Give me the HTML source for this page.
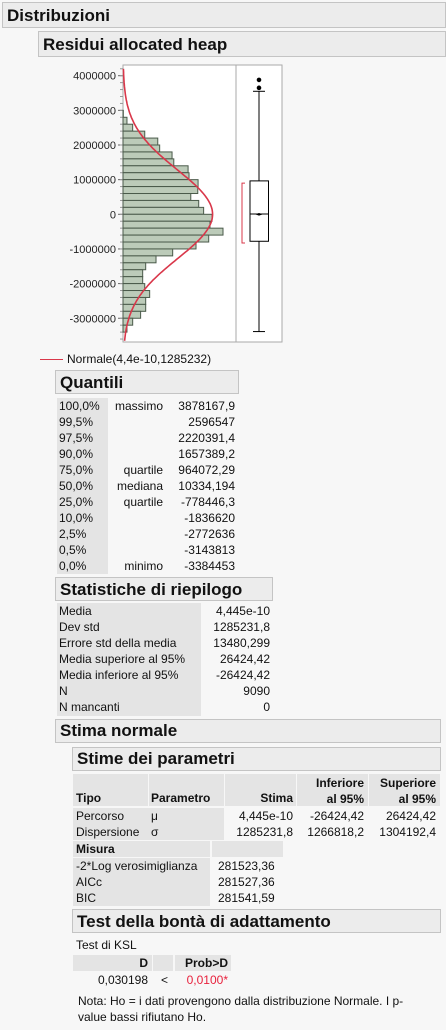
<!DOCTYPE html>
<html><head><meta charset="utf-8">
<style>
body{margin:0;width:446px;height:1030px;background:#f7f7f7;font-family:"Liberation Sans",Arial,sans-serif;font-size:12px;color:#111;position:relative;overflow:hidden}
.hdr{position:absolute;background:#ececec;border:1px solid #c4c4c4;font-weight:bold;box-sizing:border-box;padding-left:4px}
.a{position:absolute;white-space:nowrap}
.g{position:absolute;background:#e4e4e4}
.r{text-align:right}
</style></head><body>
<div class="hdr" style="left:2px;top:2px;width:444px;height:26px;font-size:17px;line-height:25px">Distribuzioni</div>
<div class="hdr" style="left:38px;top:31px;width:408px;height:26px;font-size:17px;line-height:25px">Residui allocated heap</div>

<svg id="chart" style="position:absolute;left:0;top:60px" width="300" height="290"></svg>

<div class="a" style="left:40px;top:352px;font-size:12px"><span style="display:inline-block;width:23px;border-top:1px solid #d9374a;vertical-align:middle;margin-right:4px"></span>Normale(4,4e-10,1285232)</div>

<div class="hdr" style="left:55px;top:370px;width:184px;height:24px;font-size:17px;line-height:23px">Quantili</div>
<div class="g" style="left:57px;top:398px;width:51px;height:176px"></div>
<div id="qt"></div>

<div class="hdr" style="left:55px;top:577px;width:218px;height:24px;font-size:17px;line-height:23px">Statistiche di riepilogo</div>
<div class="g" style="left:57px;top:603px;width:144px;height:113px"></div>
<div id="st"></div>

<div class="hdr" style="left:55px;top:719px;width:386px;height:24px;font-size:17px;line-height:22px">Stima normale</div>
<div class="hdr" style="left:72px;top:747px;width:369px;height:24px;font-size:17px;line-height:22px">Stime dei parametri</div>
<div>
<div class="g" style="left:73px;top:774px;width:75px;height:32px"></div>
<div class="g" style="left:149px;top:774px;width:75px;height:32px"></div>
<div class="g" style="left:225px;top:774px;width:71px;height:32px"></div>
<div class="g" style="left:297px;top:774px;width:71px;height:32px"></div>
<div class="g" style="left:369px;top:774px;width:71px;height:32px"></div>
<div class="a" style="left:76px;top:791px;font-weight:bold">Tipo</div>
<div class="a" style="left:151px;top:791px;font-weight:bold">Parametro</div>
<div class="a r" style="left:225px;width:68px;top:791px;font-weight:bold">Stima</div>
<div class="a r" style="left:297px;width:67px;top:775px;font-weight:bold;line-height:16px">Inferiore<br>al 95%</div>
<div class="a r" style="left:369px;width:67px;top:775px;font-weight:bold;line-height:16px">Superiore<br>al 95%</div>
<div class="g" style="left:73px;top:808px;width:151px;height:32px"></div>
<div class="a" style="left:76px;top:808px;line-height:16px">Percorso<br>Dispersione</div>
<div class="a" style="left:151px;top:808px;line-height:16px">μ<br>σ</div>
<div class="a r" style="left:225px;width:68px;top:808px;line-height:16px">4,445e-10<br>1285231,8</div>
<div class="a r" style="left:297px;width:67px;top:808px;line-height:16px">-26424,42<br>1266818,2</div>
<div class="a r" style="left:369px;width:67px;top:808px;line-height:16px">26424,42<br>1304192,4</div>
<div class="g" style="left:73px;top:841px;width:137px;height:16px"></div>
<div class="g" style="left:212px;top:841px;width:71px;height:16px"></div>
<div class="a" style="left:76px;top:842px;font-weight:bold">Misura</div>
<div class="g" style="left:73px;top:858px;width:137px;height:48px"></div>
<div class="a" style="left:76px;top:858px;line-height:16px">-2*Log verosimiglianza<br>AICc<br>BIC</div>
<div class="a" style="left:218px;top:858px;line-height:16px">281523,36<br>281527,36<br>281541,59</div>
</div>
<div class="hdr" style="left:72px;top:909px;width:369px;height:24px;font-size:17px;line-height:23px">Test della bontà di adattamento</div>
<div class="a" style="left:76px;top:938px">Test di KSL</div>
<div class="g" style="left:73px;top:955px;width:79px;height:16px"></div>
<div class="g" style="left:153px;top:955px;width:20px;height:16px"></div>
<div class="g" style="left:175px;top:955px;width:56px;height:16px"></div>
<div class="a r" style="left:73px;width:75px;top:956px;font-weight:bold">D</div>
<div class="a r" style="left:175px;width:53px;top:956px;font-weight:bold">Prob&gt;D</div>
<div class="a r" style="left:73px;width:75px;top:973px">0,030198</div>
<div class="a" style="left:161px;top:973px">&lt;</div>
<div class="a r" style="left:175px;width:53px;top:973px;color:#e8213d">0,0100*</div>
<div class="a" style="left:78px;top:993px;line-height:16px">Nota: Ho = i dati provengono dalla distribuzione Normale. I p-<br>value bassi rifiutano Ho.</div>

<script>
const binStarts=[3.0,2.8,2.6,2.4,2.2,2.0,1.8,1.6,1.4,1.2,1.0,0.8,0.6,0.4,0.2,0,-0.2,-0.4,-0.6,-0.8,-1.0,-1.2,-1.4,-1.6,-1.8,-2.0,-2.2,-2.4,-2.6,-2.8,-3.0,-3.2];
const counts=[2,25,61,137,219,231,309,320,410,416,473,471,427,477,508,561,548,630,540,460,313,208,143,124,124,137,168,143,143,111,61,25];
const yTicks=[4000000,3000000,2000000,1000000,0,-1000000,-2000000,-3000000];
const boxStats=[-3384453,-778446.3,10334.194,964072.29,3550000];
const outliers=[3878167.9,3650000];
const shortestHalf=[-830000,900000];
const mu=0, sd=1285232, N=9090, bw=200000;

const svg=document.getElementById('chart');
const NS='http://www.w3.org/2000/svg';
const top0=60;
const y=v=>214.3-top0-v/1000000*34.65;
const cx=c=>123+c*100/630;
function mk(t,a,p){const e=document.createElementNS(NS,t);for(const k in a)e.setAttribute(k,a[k]);(p||svg).appendChild(e);return e;}
let f=mk('rect',{x:123,y:5,width:159,height:277,fill:'#fff',stroke:'#aaa'});


mk('line',{x1:236,y1:5,x2:236,y2:282,stroke:'#aaa'});
yTicks.forEach(t=>{
 const yy=y(t);
 mk('line',{x1:118,x2:123,y1:yy,y2:yy,stroke:'#666'});
 const tx=mk('text',{x:116,y:yy+4,'text-anchor':'end','font-size':'11','font-family':'Liberation Sans, Arial, sans-serif',fill:'#222'});
 tx.textContent=String(t);
 
 
});
for(let v=-3600000;v<=4200000;v+=200000){const yy=y(v);if(yy>5&&yy<282)mk('line',{x1:120,x2:123,y1:yy,y2:yy,stroke:'#999'});}
binStarts.forEach((b,i)=>{
 const y1=y(b*1000000),y2=y(b*1000000-bw);
 const r=mk('rect',{x:123,y:y1,width:cx(counts[i])-123,height:y2-y1,fill:'#bccbb9',stroke:'#4a5a4a','stroke-width':1});
 
 
});
let pts=[];
for(let v=-3700000;v<=4200000;v+=50000){const d=Math.exp(-0.5*((v-mu)/sd)**2)/(sd*Math.sqrt(2*Math.PI))*N*bw;const yy=y(v);if(yy>=5&&yy<=282)pts.push(cx(d).toFixed(1)+','+yy.toFixed(1));}
const c=mk('polyline',{points:pts.join(' '),fill:'none',stroke:'#d9374a','stroke-width':1.6});


const bx=259;
const g=mk('g',{});


mk('line',{x1:bx,x2:bx,y1:y(boxStats[4]),y2:y(boxStats[3]),stroke:'#000'},g);
mk('line',{x1:bx,x2:bx,y1:y(boxStats[1]),y2:y(boxStats[0]),stroke:'#000'},g);
mk('line',{x1:bx-6,x2:bx+6,y1:y(boxStats[4]),y2:y(boxStats[4]),stroke:'#000'},g);
mk('line',{x1:bx-6,x2:bx+6,y1:y(boxStats[0]),y2:y(boxStats[0]),stroke:'#000'},g);
mk('rect',{x:250,y:y(boxStats[3]),width:18.5,height:y(boxStats[1])-y(boxStats[3]),fill:'#fff',stroke:'#000'},g);
mk('line',{x1:250,x2:268.5,y1:y(boxStats[2]),y2:y(boxStats[2]),stroke:'#000'},g);
mk('path',{d:`M${bx-4} ${y(mu)} L${bx} ${y(mu)-1.3} L${bx+4} ${y(mu)} L${bx} ${y(mu)+1.3}Z`,fill:'#000'},g);
outliers.forEach(o=>{const p=mk('circle',{cx:bx,cy:y(o),r:2.3,fill:'#000'},g);});
const sh=mk('path',{d:`M245 ${y(shortestHalf[1])} H242 V${y(shortestHalf[0])} H245`,fill:'none',stroke:'#d9374a'});



const qLabels=['100,0%','99,5%','97,5%','90,0%','75,0%','50,0%','25,0%','10,0%','2,5%','0,5%','0,0%'];
const qNames=['massimo','','','','quartile','mediana','quartile','','','','minimo'];
const qVals=['3878167,9','2596547','2220391,4','1657389,2','964072,29','10334,194','-778446,3','-1836620','-2772636','-3143813','-3384453'];
const qt=document.getElementById('qt');
qLabels.forEach((l,i)=>{const t=399+i*16;
 qt.insertAdjacentHTML('beforeend',`<div class="a" style="left:59px;top:${t}px">${l}</div><div class="a r" style="left:108px;width:55px;top:${t}px">${qNames[i]}</div><div class="a r" style="left:165px;width:70px;top:${t}px">${qVals[i]}</div>`);});
const sL=['Media','Dev std','Errore std della media','Media superiore al 95%','Media inferiore al 95%','N','N mancanti'];
const sV=['4,445e-10','1285231,8','13480,299','26424,42','-26424,42','9090','0'];
const st=document.getElementById('st');
sL.forEach((l,i)=>{const t=604+i*16;
 st.insertAdjacentHTML('beforeend',`<div class="a" style="left:59px;top:${t}px">${l}</div><div class="a r" style="left:200px;width:70px;top:${t}px">${sV[i]}</div>`);});
</script>
</body></html>
